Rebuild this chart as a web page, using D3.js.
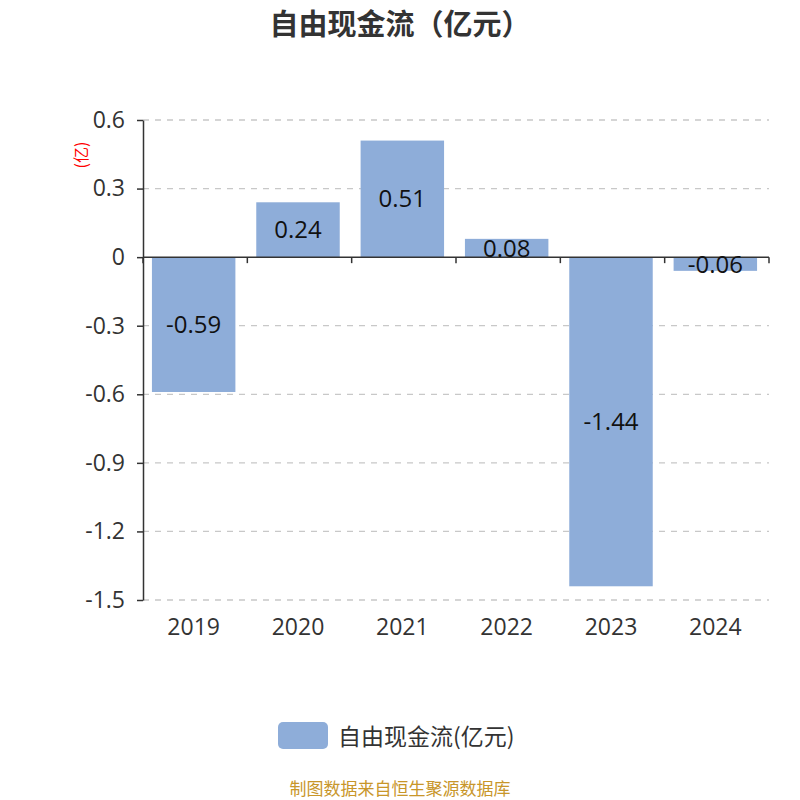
<html>
<head>
    <meta charset="utf-8">
    <script src="https://cdn.jsdelivr.net/npm/d3@7/dist/d3.min.js"></script>
    <style>
        body { margin: 0; }
        text { font-family: "Open Sans", "Noto Sans CJK SC", sans-serif; }
        .cjk { font-family: "Noto Sans CJK SC", sans-serif; }
    </style>
</head>
<body>
    <script type="text/javascript">
        var years = ["2019", "2020", "2021", "2022", "2023", "2024"];
        var values = [-0.59, 0.24, 0.51, 0.08, -1.44, -0.06];
        var yTicks = [0.6, 0.3, 0, -0.3, -0.6, -0.9, -1.2, -1.5];

        var width = 800;
        var height = 800;
        var margin = { left: 143, right: 31, top: 120, bottom: 200 };
        var barColor = "#8eadd9";

        const svg = d3.select("body").append("svg")
            .attr("width", width)
            .attr("height", height);

        var xScale = d3.scaleBand(years, [margin.left, width - margin.right])
            .paddingInner(0.2)
            .paddingOuter(0.1);
        var yScale = d3.scaleLinear([-1.5, 0.6], [height - margin.bottom, margin.top]);

        // grid lines
        svg.append("g")
            .selectAll("line")
            .data(yTicks.filter(d => d !== 0))
            .join("line")
                .attr("x1", margin.left)
                .attr("x2", width - margin.right)
                .attr("y1", d => yScale(d))
                .attr("y2", d => yScale(d))
                .attr("stroke", "#c8c8c8")
                .attr("stroke-width", 1.3)
                .attr("stroke-dasharray", "6,6");

        // bars
        svg.append("g")
            .selectAll("rect")
            .data(values)
            .join("rect")
                .attr("x", (d, i) => xScale(years[i]) - 1.5)
                .attr("y", d => yScale(Math.max(0, d)))
                .attr("width", xScale.bandwidth())
                .attr("height", d => Math.abs(yScale(d) - yScale(0)))
                .attr("fill", barColor);

        // y axis
        var yAxis = d3.axisLeft(yScale)
            .tickValues(yTicks)
            .tickFormat(d => String(+d.toFixed(1)))
            .tickSize(6)
            .tickSizeOuter(0)
            .tickPadding(12);
        var yg = svg.append("g")
            .attr("transform", `translate(${margin.left},0)`)
            .call(yAxis);
        yg.select(".domain").attr("stroke", "#333").attr("stroke-width", 1.5);
        yg.selectAll(".tick line").attr("stroke", "#333").attr("stroke-width", 1.5);
        yg.selectAll(".tick text")
            .attr("fill", "#333")
            .style("font-family", "'Open Sans', sans-serif")
            .style("font-size", "23px");

        // x axis on zero line, ticks at band boundaries
        var step = xScale.step();
        var x0 = margin.left;
        svg.append("line")
            .attr("x1", margin.left)
            .attr("x2", width - margin.right)
            .attr("y1", yScale(0))
            .attr("y2", yScale(0))
            .attr("stroke", "#333")
            .attr("stroke-width", 1.5);
        svg.append("g")
            .selectAll("line")
            .data(d3.range(years.length + 1))
            .join("line")
                .attr("x1", i => x0 + i * step)
                .attr("x2", i => x0 + i * step)
                .attr("y1", yScale(0))
                .attr("y2", yScale(0) + 6)
                .attr("stroke", "#333")
                .attr("stroke-width", 1.5);

        svg.append("g")
            .selectAll("text")
            .data(years)
            .join("text")
                .attr("x", d => xScale(d) + xScale.bandwidth() / 2 - 1.5)
                .attr("y", height - margin.bottom + 26)
                .attr("text-anchor", "middle")
                .attr("dominant-baseline", "central")
                .attr("fill", "#333")
                .style("font-size", "23px")
                .text(d => d);

        // value labels
        svg.append("g")
            .selectAll("text")
            .data(values)
            .join("text")
                .attr("x", (d, i) => xScale(years[i]) + xScale.bandwidth() / 2 - 1.5)
                .attr("y", d => (yScale(d) + yScale(0)) / 2 - 1)
                .attr("text-anchor", "middle")
                .attr("dominant-baseline", "central")
                .attr("fill", "#111")
                .style("font-size", "24px")
                .text(d => d.toFixed(2));

        // unit label
        svg.append("text")
            .attr("class", "cjk")
            .attr("transform", "translate(80,155) rotate(-90)")
            .attr("text-anchor", "middle")
            .attr("dominant-baseline", "central")
            .attr("fill", "red")
            .style("font-size", "16px")
            .text("(亿)");

        // title
        svg.append("text")
            .attr("class", "cjk")
            .attr("x", width / 2)
            .attr("y", 22)
            .attr("text-anchor", "middle")
            .attr("dominant-baseline", "central")
            .attr("fill", "#333")
            .style("font-size", "29px")
            .style("font-weight", "bold")
            .text("自由现金流（亿元）");

        // legend
        svg.append("rect")
            .attr("x", 278)
            .attr("y", 722)
            .attr("width", 50)
            .attr("height", 27)
            .attr("rx", 5)
            .attr("fill", barColor);
        svg.append("text")
            .attr("class", "cjk")
            .attr("x", 338)
            .attr("y", 735)
            .attr("dominant-baseline", "central")
            .attr("fill", "#333")
            .style("font-size", "23px")
            .text("自由现金流(亿元)");

        // source note
        svg.append("text")
            .attr("class", "cjk")
            .attr("x", width / 2)
            .attr("y", 787)
            .attr("text-anchor", "middle")
            .attr("dominant-baseline", "central")
            .attr("fill", "#c8962a")
            .style("font-size", "17px")
            .text("制图数据来自恒生聚源数据库");
    </script>
</body>
</html>
